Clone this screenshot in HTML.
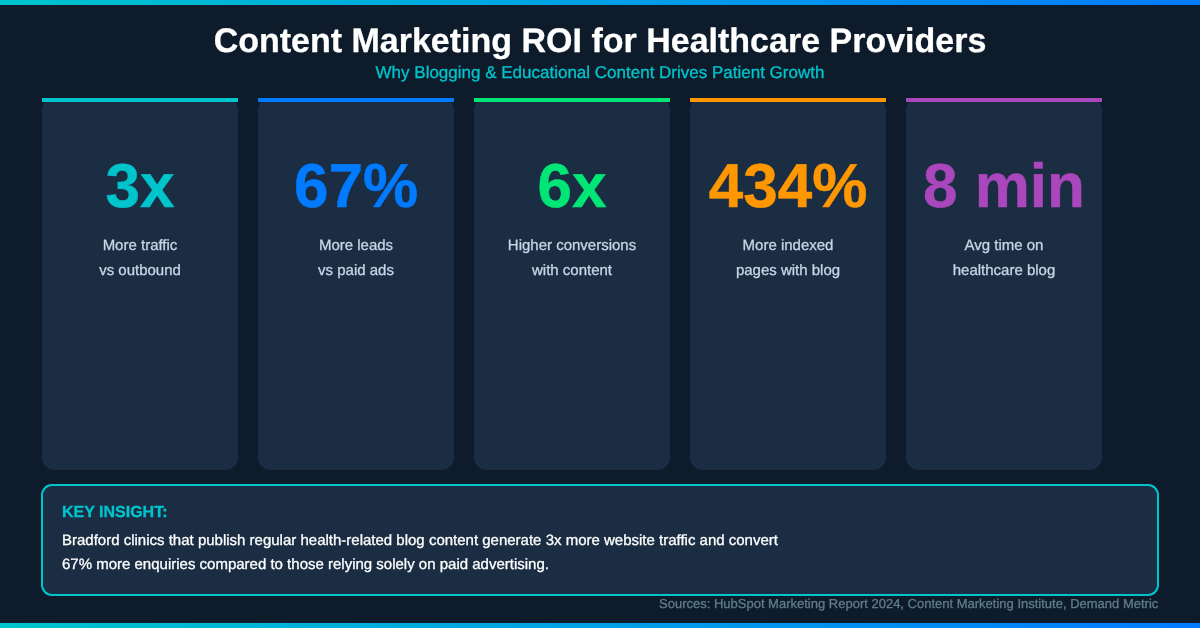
<!DOCTYPE html>
<html lang="en">
<head>
<meta charset="utf-8">
<title>Content Marketing ROI for Healthcare Providers</title>
<style>
  html, body { margin: 0; padding: 0; }
  body {
    width: 1200px; height: 628px; overflow: hidden; position: relative;
    background: #0d1b2a;
    font-family: "Liberation Sans", Arial, Helvetica, sans-serif;
  }
  .topbar, .botbar {
    position: absolute; left: 0; width: 1200px; height: 5px;
    background: linear-gradient(90deg, #00c4cc 0%, #007bff 100%);
  }
  .topbar { top: 0; }
  .botbar { top: 623px; }
  h1, .sub, .lbl span, .k, .t span, .src, .num { text-rendering: geometricPrecision; }
  h1, .sub, .lbl span, .k, .t span, .src { will-change: transform; -webkit-text-stroke: 0.3px currentColor; }
  .lbl span, .t span { display: block; }
  h1 {
    position: absolute; left: 0; top: 20px; width: 1200px; margin: 0;
    text-align: center; color: #ffffff; font-weight: bold;
    font-size: 34px; line-height: 40px; white-space: nowrap; transform: translateY(0.5px);
  }
  .sub {
    position: absolute; left: 0; top: 63px; width: 1200px;
    text-align: center; color: #00c4cc; font-size: 17px; line-height: 20px;
    white-space: nowrap;
  }
  .card {
    position: absolute; top: 98px; width: 196px; height: 372px;
    background: #1a2d43; border-radius: 12px;
  }
  .card .bar { position: absolute; left: 0; top: 0; width: 196px; height: 4px; }
  .card .num {
    position: absolute; left: -20px; width: 236px; top: 51px;
    text-align: center; font-weight: bold; font-size: 62px; line-height: 72px;
    white-space: nowrap; transform: translateY(1.8px); transform-origin: 50% 50%;
    -webkit-text-stroke: 0.5px currentColor;
  }
  .card .lbl {
    position: absolute; left: 0; width: 196px; top: 135px;
    text-align: center; color: #c8d6e5; font-size: 15px; line-height: 25px;
  }
  .c1 { left: 42px; }  .c1 .bar { background: #00c4cc; } .c1 .num { color: #00c4cc; }
  .c2 { left: 258px; } .c2 .bar { background: #007bff; } .c2 .num { color: #007bff; }
  .c3 { left: 474px; } .c3 .bar { background: #00e676; } .c3 .num { color: #00e676; }
  .c4 { left: 690px; } .c4 .bar { background: #ff9800; } .c4 .num { color: #ff9800; }
  .c5 { left: 906px; } .c5 .bar { background: #ab47bc; } .c5 .num { color: #ab47bc; }
  .insight {
    position: absolute; left: 41px; top: 484px; width: 1114px; height: 108px;
    border: 2px solid #00c4cc; border-radius: 11px; background: #1a2d43;
  }
  .insight .k {
    position: absolute; left: 19px; top: 16px; color: #00c4cc;
    font-weight: bold; font-size: 16px; line-height: 20px; white-space: nowrap; transform: translateY(0.7px);
  }
  .insight .t {
    position: absolute; left: 19px; top: 43px; color: #ffffff;
    font-size: 15px; line-height: 24px; white-space: nowrap;
  }
  .src {
    position: absolute; right: 42px; top: 596px; color: #607d8b;
    font-size: 13px; line-height: 16px; white-space: nowrap;
  }
</style>
</head>
<body>
  <div class="topbar"></div>
  <h1>Content Marketing ROI for Healthcare Providers</h1>
  <div class="sub">Why Blogging &amp; Educational Content Drives Patient Growth</div>

  <div class="card c1"><div class="bar"></div><div class="num">3x</div><div class="lbl"><span>More traffic</span><span>vs outbound</span></div></div>
  <div class="card c2"><div class="bar"></div><div class="num">67%</div><div class="lbl"><span>More leads</span><span>vs paid ads</span></div></div>
  <div class="card c3"><div class="bar"></div><div class="num">6x</div><div class="lbl"><span>Higher conversions</span><span>with content</span></div></div>
  <div class="card c4"><div class="bar"></div><div class="num">434%</div><div class="lbl"><span>More indexed</span><span>pages with blog</span></div></div>
  <div class="card c5"><div class="bar"></div><div class="num">8 min</div><div class="lbl"><span>Avg time on</span><span>healthcare blog</span></div></div>

  <div class="insight">
    <div class="k">KEY INSIGHT:</div>
    <div class="t"><span>Bradford clinics that publish regular health-related blog content generate 3x more website traffic and convert</span><span>67% more enquiries compared to those relying solely on paid advertising.</span></div>
  </div>
  <div class="src">Sources: HubSpot Marketing Report 2024, Content Marketing Institute, Demand Metric</div>
  <div class="botbar"></div>
</body>
</html>
